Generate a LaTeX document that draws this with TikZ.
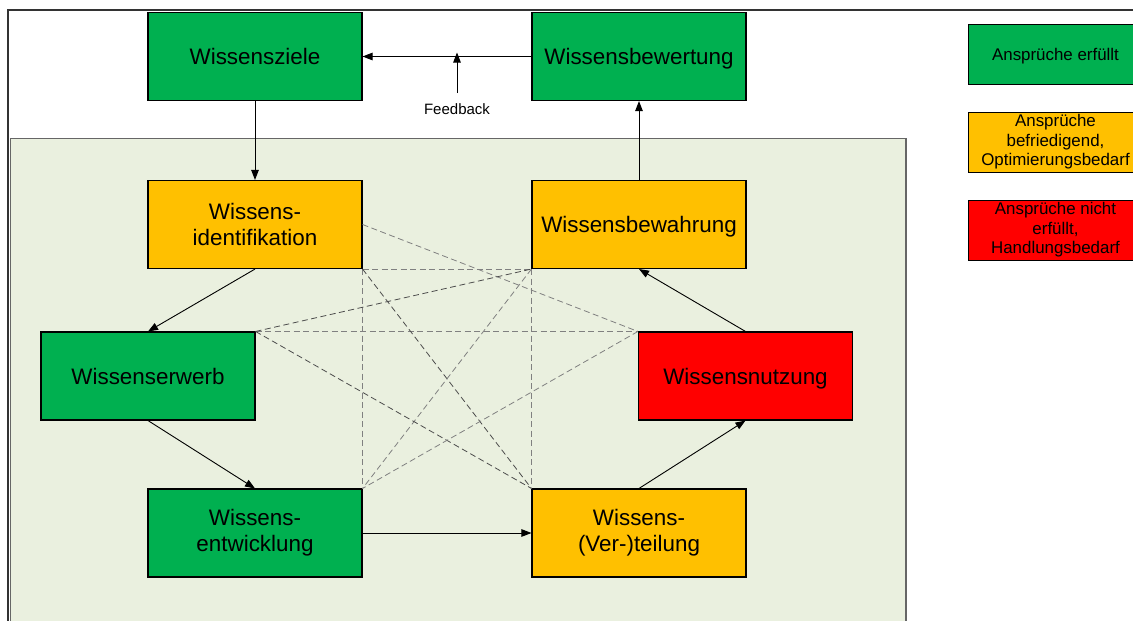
\documentclass[tikz,border=0pt]{standalone}
\usepackage{fontspec}
\setmainfont{Liberation Sans}
\usetikzlibrary{arrows.meta}
\definecolor{kgreen}{HTML}{00B050}
\definecolor{kyellow}{HTML}{FFC000}
\definecolor{kred}{HTML}{FF0000}
\definecolor{kbg}{HTML}{EAF0DF}
\tikzset{
  kbox/.style={draw=black, line width=1.1pt, minimum width=214pt, minimum height=88pt,
    inner sep=0pt, align=center, font=\fontsize{22.4}{26}\selectfont},
  oneline/.style={text height=16pt, text depth=0pt},
  lbox/.style={draw=black, line width=1pt, minimum width=175pt, minimum height=60pt,
    inner sep=0pt, align=center, font=\fontsize{16.9}{19.6}\selectfont},
  arr/.style={line width=0.9pt, -{Triangle[length=10pt,width=7.5pt]}},
  dl/.style={line width=0.8pt, draw=black!50, dash pattern=on 6pt off 3.5pt},
  dd/.style={line width=0.8pt, draw=black!70, dash pattern=on 6pt off 3.5pt},
}
\begin{document}
\begin{tikzpicture}[x=1pt,y=-1pt]
\useasboundingbox (0,0) rectangle (1133,621);
\clip (0,0) rectangle (1133,621);
\fill[white] (0,0) rectangle (1133,621);
% outer frame
\draw[line width=2pt, draw=black!80] (7.5,640) -- (7.5,9.5) -- (1150,9.5);
% light green area
\draw[fill=kbg, draw=black!60, line width=1.5pt] (10.5,138.5) rectangle (906,650);

% nodes
\node[kbox, oneline, fill=kgreen] (ziele) at (255,56.5) {Wissensziele};
\node[kbox, oneline, fill=kgreen] (bewertung) at (639,56.5) {Wissensbewertung};
\node[kbox, fill=kyellow] (ident) at (255,224.5) {Wissens-\\identifikation};
\node[kbox, oneline, fill=kyellow] (bewahrung) at (639,224.5) {Wissensbewahrung};
\node[kbox, oneline, fill=kgreen] (erwerb) at (148,376) {Wissenserwerb};
\node[kbox, oneline, fill=kred] (nutzung) at (745.5,376) {Wissensnutzung};
\node[kbox, fill=kgreen] (entw) at (255,533) {Wissens-\\entwicklung};
\node[kbox, fill=kyellow] (verteil) at (639,533) {Wissens-\\(Ver-)teilung};

% legend
\node[lbox, fill=kgreen, text height=12pt, text depth=0pt] (l1) at (1055.5,54) {Ansprüche erfüllt};
\node[lbox, fill=kyellow] (l2) at (1055.5,142) {Ansprüche\\befriedigend,\\Optimierungsbedarf};
\node[lbox, fill=kred] (l3) at (1055.5,230) {Ansprüche nicht\\erfüllt,\\Handlungsbedarf};

% dashed cross connections
\draw[dl] (ident.east) -- (nutzung.north west);
\draw[dl] (ident.south east) -- (bewahrung.south west);
\draw[dl] (ident.south east) -- (entw.north east);
\draw[dl] (bewahrung.south west) -- (verteil.north west);
\draw[dl] (erwerb.north east) -- (nutzung.north west);
\draw[dd] (erwerb.north east) -- (bewahrung.south west);
\draw[dd] (ident.south east) -- (verteil.north west);
\draw[dl] (bewahrung.south west) -- (entw.north east);
\draw[dd] (erwerb.north east) -- (verteil.north west);
\draw[dl] (nutzung.north west) -- (entw.north east);

% arrows
\draw[arr] (bewertung.west) -- (ziele.east);
\node[font=\fontsize{15}{18}\selectfont, inner sep=0pt] (fb) at (457,109) {Feedback};
\coordinate (fbstart) at (457,93);
\coordinate (fbtip) at (457,52.5);
\draw[arr] (fbstart) -- (fbtip);
\draw[arr] (ziele.south) -- (ident.north);
\draw[arr] (bewahrung.north) -- (bewertung.south);
\draw[arr] (ident.south) -- (erwerb.north);
\draw[arr] (erwerb.south) -- (entw.north);
\draw[arr] (entw.east) -- (verteil.west);
\draw[arr] (verteil.north) -- (nutzung.south);
\draw[arr] (nutzung.north) -- (bewahrung.south);
\end{tikzpicture}
\end{document}
